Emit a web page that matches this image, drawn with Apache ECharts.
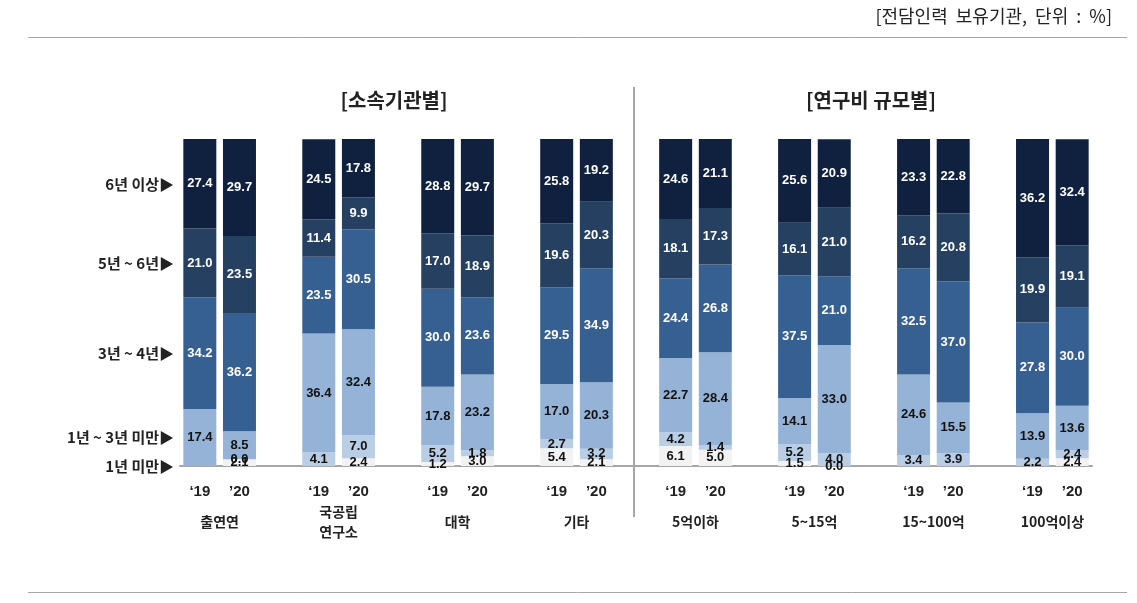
<!DOCTYPE html>
<html>
<head>
<meta charset="utf-8">
<script src="https://cdn.jsdelivr.net/npm/echarts@6/dist/echarts.min.js"></script>
<style>
  html, body { margin: 0; padding: 0; background: #fff; }
  #chart { width: 1137px; height: 603px; }
</style>
</head>
<body>
<div id="chart"></div>
<script>
/* 전담인력 근속기간 분포: 소속기관별 / 연구비 규모별, '19 vs '20 */
var groups = ['출연연', '국공립\n연구소', '대학', '기타', '5억이하', '5~15억', '15~100억', '100억이상'];
var years = ['‘19', '’20'];
var segNames = ['1년 미만', '기타(소)', '1년 ~ 3년 미만', '3년 ~ 4년', '5년 ~ 6년', '6년 이상'];
var legendNames = ['1년 미만', '1년 ~ 3년 미만', '3년 ~ 4년', '5년 ~ 6년', '6년 이상'];

// 16개 막대 순서: 그룹별 '19, '20 (null = 표시 안 함)
var segA = [null, 2.1, null, 2.4, 1.2, 3.0, 5.4, 2.1, 6.1, 5.0, 1.5, 0.0, null, null, null, 2.4];
var segB = [null, 0.0, 4.1, 7.0, 5.2, 1.8, 2.7, 3.2, 4.2, 1.4, 5.2, 4.0, 3.4, 3.9, 2.2, 2.4];
var segC = [17.4, 8.5, 36.4, 32.4, 17.8, 23.2, 17.0, 20.3, 22.7, 28.4, 14.1, 33.0, 24.6, 15.5, 13.9, 13.6];
var segD = [34.2, 36.2, 23.5, 30.5, 30.0, 23.6, 29.5, 34.9, 24.4, 26.8, 37.5, 21.0, 32.5, 37.0, 27.8, 30.0];
var segE = [21.0, 23.5, 11.4, 9.9, 17.0, 18.9, 19.6, 20.3, 18.1, 17.3, 16.1, 21.0, 16.2, 20.8, 19.9, 19.1];
var segF = [27.4, 29.7, 24.5, 17.8, 28.8, 29.7, 25.8, 19.2, 24.6, 21.1, 25.6, 20.9, 23.3, 22.8, 36.2, 32.4];

var colors = ['#f2f2f2', '#b9cde5', '#95b3d7', '#376092', '#254061', '#10213f'];
var labelColors = ['#111', '#111', '#111', '#fff', '#fff', '#fff'];

var FONT = "'Liberation Sans', 'Noto Sans CJK KR', sans-serif";
var KFONT = "'Noto Sans CJK KR', 'Liberation Sans', sans-serif";

// 그룹마다 [막대, 막대, 빈칸] 슬롯 (마지막 빈칸 제외) → 23칸
function toSlots(arr) {
  var out = [];
  for (var g = 0; g < groups.length; g++) {
    out.push(arr[g * 2], arr[g * 2 + 1]);
    if (g < groups.length - 1) out.push(null);
  }
  return out;
}
var yearSlots = [];
groups.forEach(function (g, i) {
  yearSlots.push(years[0], years[1]);
  if (i < groups.length - 1) yearSlots.push('');
});
// 그룹명 축: boundaryGap false, 반칸 단위 47틱 → 두 막대 사이 틱에 이름
var groupTicks = [];
for (var k = 0; k < 47; k++) groupTicks.push(k % 6 === 2 ? groups[(k - 2) / 6] : '');

// 왼쪽 범례 위치 = 첫 막대 구간 중앙
var first = [segA[0] || 0, segB[0] || 0, segC[0], segD[0], segE[0], segF[0]];
var legendPos = [0];
(function () {
  var base = first[0] + first[1];
  for (var i = 2; i < 6; i++) {
    legendPos.push(+(base + first[i] / 2).toFixed(2));
    base += first[i];
  }
})();

var allSegs = [segA, segB, segC, segD, segE, segF];
var series = allSegs.map(function (arr, i) {
  return {
    name: segNames[i],
    type: 'bar',
    stack: 'total',
    barWidth: 33,
    xAxisIndex: 0,
    data: toSlots(arr),
    itemStyle: { color: colors[i] },
    label: {
      show: true,
      position: 'inside',
      color: labelColors[i],
      fontFamily: FONT,
      fontWeight: 'bold',
      fontSize: 13,
      formatter: function (p) { return p.value == null ? '' : p.value.toFixed(1); }
    },
    emphasis: { disabled: true }
  };
});

var chart = echarts.init(document.getElementById('chart'));
chart.setOption({
  animation: false,
  grid: { left: 180, top: 139, width: 912, bottom: 137 },
  xAxis: [{
    type: 'category',
    data: yearSlots,
    axisLine: { lineStyle: { color: '#a6a6a6', width: 2 } },
    axisTick: { show: false },
    axisLabel: { interval: 0, margin: 18, color: '#222', fontFamily: FONT, fontWeight: 'bold', fontSize: 15 }
  }, {
    type: 'category',
    position: 'bottom',
    boundaryGap: false,
    data: groupTicks,
    axisLine: { show: false },
    axisTick: { show: false },
    axisLabel: {
      interval: 0, margin: 56, verticalAlign: 'middle', lineHeight: 20,
      color: '#222', fontFamily: KFONT, fontWeight: 'bold', fontSize: 14
    }
  }],
  yAxis: {
    type: 'value',
    min: 0, max: 100,
    splitLine: { show: false },
    axisLine: { show: false },
    axisTick: { show: false },
    axisLabel: {
      customValues: legendPos,
      margin: 6,
      color: '#222', fontFamily: KFONT, fontWeight: 'bold', fontSize: 15,
      formatter: function (v) {
        var best = 0;
        for (var i = 0; i < legendPos.length; i++) {
          if (Math.abs(legendPos[i] - v) < Math.abs(legendPos[best] - v)) best = i;
        }
        return legendNames[best] + '▶';
      }
    }
  },
  graphic: [
    { type: 'line', shape: { x1: 28, y1: 37.5, x2: 1127, y2: 37.5 }, style: { stroke: '#a6a6a6', lineWidth: 1 } },
    { type: 'line', shape: { x1: 28, y1: 592.5, x2: 1127, y2: 592.5 }, style: { stroke: '#a6a6a6', lineWidth: 1 } },
    { type: 'line', shape: { x1: 634, y1: 87, x2: 634, y2: 517 }, style: { stroke: '#a6a6a6', lineWidth: 2 } },
    { type: 'text', right: 25, top: 7, style: { text: '[전담인력  보유기관,  단위  :  %]', fill: '#222', font: '18px ' + KFONT } },
    { type: 'text', x: 394, y: 100, style: { text: '[소속기관별]', fill: '#222', font: 'bold 20px ' + KFONT, align: 'center', verticalAlign: 'middle' } },
    { type: 'text', x: 871, y: 100, style: { text: '[연구비 규모별]', fill: '#222', font: 'bold 20px ' + KFONT, align: 'center', verticalAlign: 'middle' } }
  ],
  series: series
});
</script>
</body>
</html>
